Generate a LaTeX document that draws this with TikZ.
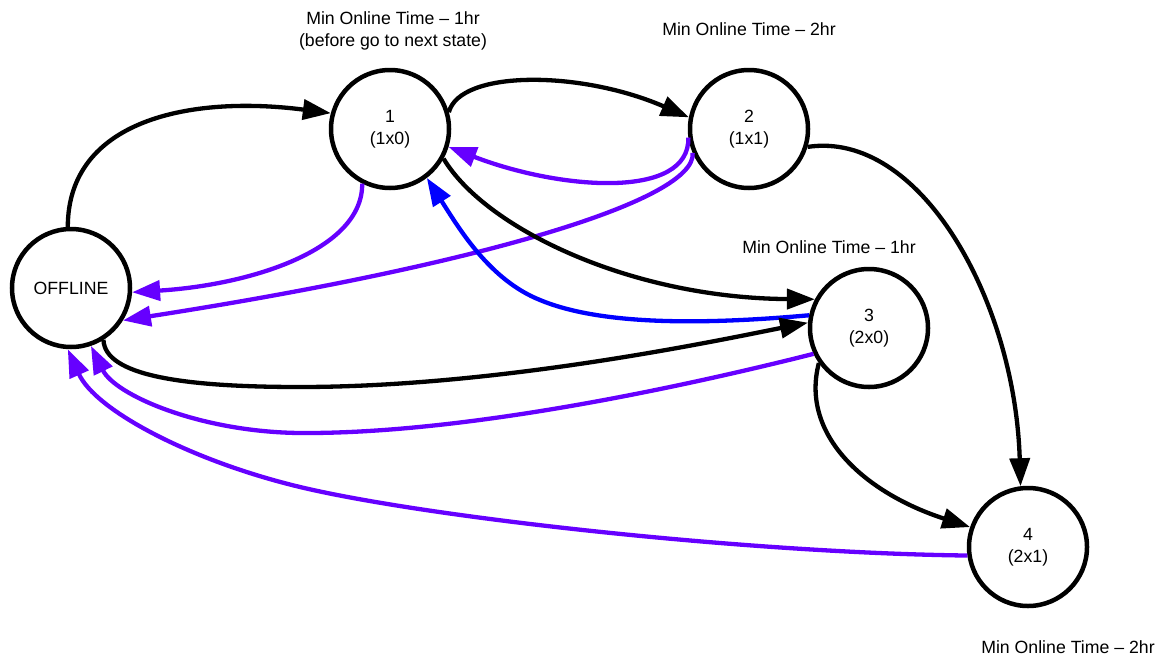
\documentclass[tikz,border=0pt]{standalone}
\usepackage{fontspec}
\setmainfont{Liberation Sans}
\usetikzlibrary{arrows.meta}
\definecolor{vio}{RGB}{102,0,255}
\definecolor{blu}{RGB}{0,0,255}
\begin{document}
\begin{tikzpicture}[x=1pt,y=-1pt,
  state/.style={circle,draw,line width=4.5pt,minimum size=118pt,inner sep=0pt,align=center,font=\fontsize{17.7}{22}\selectfont},
  lbl/.style={align=center,font=\fontsize{17.7}{22}\selectfont,inner sep=0pt},
  edge/.style={line width=4.3pt,-{Triangle[length=28pt,width=20pt]}},
  blk/.style={edge,draw=black},
  vl/.style={edge,draw=vio},
  bl/.style={edge,draw=blu}]
\useasboundingbox (0,0) rectangle (1159,656);
\node[state] (off) at (71,288) {OFFLINE};
\node[state] (n1) at (390,129) {1\\(1x0)};
\node[state] (n2) at (749,129) {2\\(1x1)};
\node[state] (n3) at (869,328) {3\\(2x0)};
\node[state] (n4) at (1028,547) {4\\(2x1)};
\node[lbl] (l1) at (393,31) {Min Online Time – 1hr\\(before go to next state)};
\node[lbl] (l2) at (749,29) {Min Online Time – 2hr};
\node[lbl] (l3) at (829,247) {Min Online Time – 1hr};
\node[lbl] (l4) at (1068,647) {Min Online Time – 2hr};
\draw[blk] (off.93) .. controls (68,120) and (190,95) .. (n1.165);
\draw[blk] (n1.16) .. controls (460,70) and (580,70) .. (n2.169);
\draw[vl] (n2.-172) .. controls (690,200) and (560,190) .. (n1.-17);
\draw[vl] (n2.-157) .. controls (697,200) and (480,265) .. (off.-32);
\draw[vl] (n1.-117) .. controls (363,250) and (250,285) .. (off.-4);
\draw[blk] (n1.-29) .. controls (485,228) and (630,298) .. (n3.152);
\draw[bl] (n3.168) .. controls (700,325) and (600,325) .. (540,300) .. controls (490,280) and (460,230) .. (n1.-53);
\draw[blk] (off.-58) .. controls (105,375) and (180,387) .. (300,387) .. controls (500,387) and (720,340) .. (n3.175);
\draw[vl] (n3.-155) .. controls (650,395) and (450,434) .. (300,433) .. controls (200,432) and (115,395) .. (off.-71);
\draw[vl] (n4.-172) .. controls (750,553) and (430,518) .. (300,487) .. controls (190,460.6) and (95,410) .. (off.-93);
\draw[blk] (n2.-17) .. controls (920,130) and (1015,300) .. (n4.97);
\draw[blk] (n3.-145) .. controls (800,435) and (865,493) .. (n4.161);
\end{tikzpicture}
\end{document}
